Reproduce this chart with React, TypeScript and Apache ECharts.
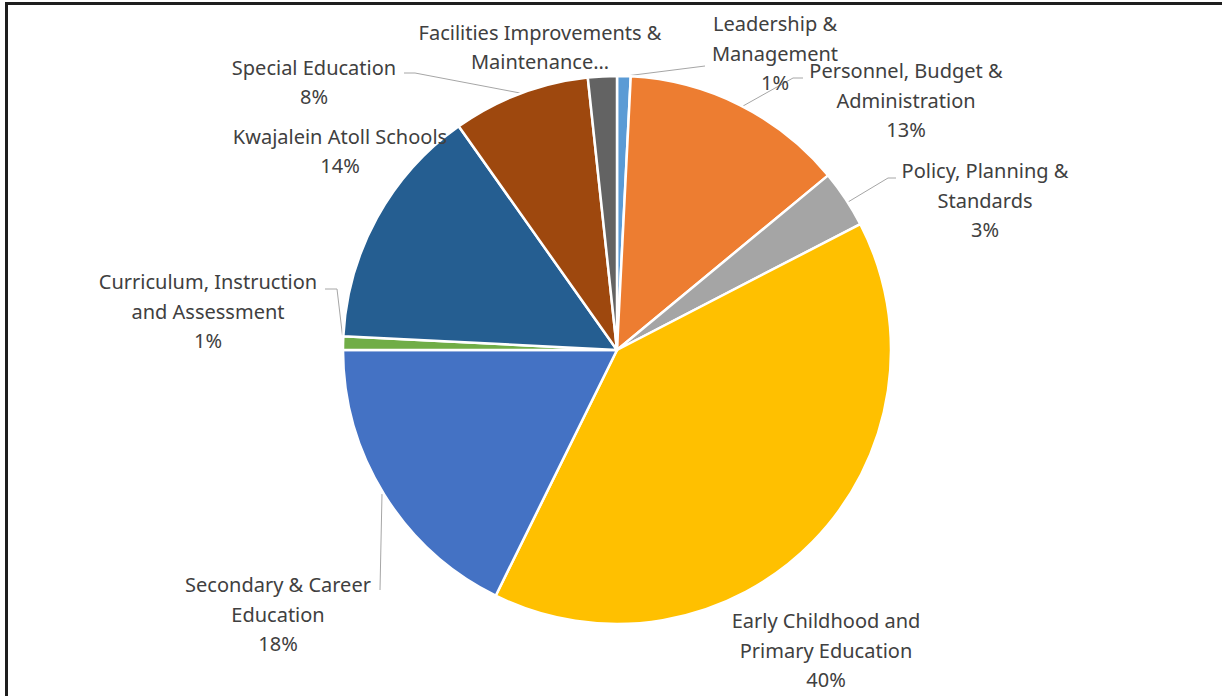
import React, { useEffect, useRef } from "react";
import * as echarts from "echarts";

const categories = [
  "Leadership & Management",
  "Personnel, Budget & Administration",
  "Policy, Planning & Standards",
  "Early Childhood and Primary Education",
  "Secondary & Career Education",
  "Curriculum, Instruction and Assessment",
  "Kwajalein Atoll Schools",
  "Special Education",
  "Facilities Improvements & Maintenance",
];

const values = [0.8, 13.2, 3.4, 39.9, 17.7, 0.8, 14.4, 8.1, 1.7];

const labelTexts = [
  "Leadership &\nManagement",
  "Personnel, Budget &\nAdministration",
  "Policy, Planning &\nStandards",
  "Early Childhood and\nPrimary Education",
  "Secondary & Career\nEducation",
  "Curriculum, Instruction\nand Assessment",
  "Kwajalein Atoll Schools",
  "Special Education",
  "Facilities Improvements &\nMaintenance…",
];

const showPercent = [true, true, true, true, true, true, true, true, false];

const colors = [
  "#5B9BD5",
  "#ED7D31",
  "#A5A5A5",
  "#FFC000",
  "#4472C4",
  "#70AD47",
  "#255E91",
  "#9E480E",
  "#636363",
];

// label layout (text block centre) and leader lines, in chart pixels
const labelPos: [number, number][] = [
  [775, 53],
  [906, 100],
  [985, 200],
  [826, 650],
  [278, 614],
  [208, 311],
  [340, 151],
  [314, 82],
  [540, 47],
];

const leaderLines: (number[][] | null)[] = [
  [[626, 76], [705, 66]],
  [[743, 106], [793, 78], [803, 78]],
  [[848, 202], [888, 178], [896, 178]],
  null,
  [[382, 494], [380, 590]],
  [[343, 340], [337, 289], [325, 289]],
  null,
  [[520, 93], [415, 73], [404, 73]],
  null,
];

export default function App() {
  const ref = useRef<HTMLDivElement>(null);

  useEffect(() => {
    if (!ref.current) return;
    const chart = echarts.init(ref.current, null, { renderer: "svg" });
    const data = categories.map((name, i) => ({
      name,
      value: values[i],
      itemStyle: { color: colors[i] },
      labelLine: { show: leaderLines[i] != null },
    }));
    chart.setOption({
      animation: false,
      backgroundColor: "#ffffff",
      series: [
        {
          type: "pie",
          center: [617, 350],
          radius: 274,
          startAngle: 90,
          clockwise: true,
          avoidLabelOverlap: false,
          data,
          itemStyle: { borderColor: "#ffffff", borderWidth: 2.5 },
          label: {
            show: true,
            position: "outside",
            fontFamily: "Noto Sans",
            fontSize: 20,
            lineHeight: 29.5,
            color: "#404040",
            align: "center",
            formatter: (p: any) => {
              const i = p.dataIndex;
              return showPercent[i]
                ? labelTexts[i] + "\n" + Math.round(p.percent) + "%"
                : labelTexts[i];
            },
          },
          labelLine: {
            show: true,
            lineStyle: { color: "#A6A6A6", width: 1 },
          },
          labelLayout: (params: any) => {
            const i = params.dataIndex;
            const out: any = {
              x: labelPos[i][0],
              y: labelPos[i][1],
              align: "center",
              verticalAlign: "middle",
            };
            if (leaderLines[i]) out.labelLinePoints = leaderLines[i];
            return out;
          },
        },
      ],
    });
    return () => chart.dispose();
  }, []);

  return (
    <div
      style={{
        position: "fixed",
        left: 0,
        top: 0,
        width: 1222,
        height: 696,
        background: "#fff",
        overflow: "hidden",
      }}
    >
      <div ref={ref} style={{ position: "absolute", left: 0, top: 0, width: 1222, height: 696 }} />
      <div
        style={{
          position: "absolute",
          left: 5,
          top: 2,
          width: 1400,
          height: 900,
          borderLeft: "3px solid #1e1e1e",
          borderTop: "3px solid #1e1e1e",
          pointerEvents: "none",
        }}
      />
    </div>
  );
}
